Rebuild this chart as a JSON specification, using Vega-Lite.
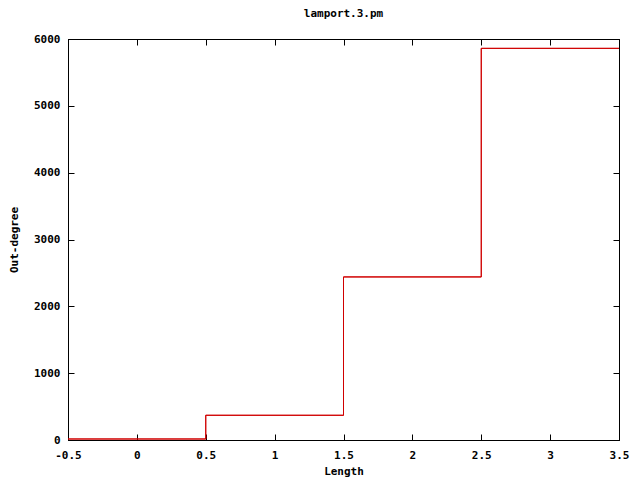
{
  "$schema": "https://vega.github.io/schema/vega-lite/v6.json",
  "width": 551,
  "height": 401,
  "autosize": "none",
  "padding": {"left": 68, "top": 39, "right": 21, "bottom": 40},
  "background": "white",
  "title": {
    "text": "lamport.3.pm",
    "font": "DejaVu Sans Mono",
    "fontSize": 11,
    "fontWeight": "bold",
    "color": "black",
    "offset": 14,
    "anchor": "middle"
  },
  "config": {
    "view": {"stroke": "black", "strokeWidth": 1},
    "axis": {
      "domainColor": "black",
      "tickColor": "black",
      "labelColor": "black",
      "titleColor": "black",
      "labelFont": "DejaVu Sans Mono",
      "titleFont": "DejaVu Sans Mono",
      "labelFontSize": 11,
      "titleFontSize": 11,
      "labelFontWeight": "bold",
      "titleFontWeight": "bold",
      "grid": false,
      "tickSize": -6,
      "labelFlush": false,
      "labelOverlap": false,
      "labelBound": false
    }
  },
  "data": {
    "values": [
      {"length": -0.5, "degree": 15},
      {"length": 0.5, "degree": 370},
      {"length": 1.5, "degree": 2440},
      {"length": 2.5, "degree": 5860},
      {"length": 3.5, "degree": 5860}
    ]
  },
  "layer": [
    {
      "mark": {"type": "line", "interpolate": "step-after", "color": "#d00000", "strokeWidth": 1},
      "encoding": {
        "x": {
          "field": "length", "type": "quantitative",
          "scale": {"domain": [-0.5, 3.5], "nice": false, "zero": false},
          "axis": {"orient": "bottom", "values": [-0.5, 0, 0.5, 1, 1.5, 2, 2.5, 3, 3.5], "labelExpr": "datum.value + ''", "labelPadding": 15, "title": "Length", "titlePadding": 5}
        },
        "y": {
          "field": "degree", "type": "quantitative",
          "scale": {"domain": [0, 6000], "nice": false},
          "axis": {"orient": "left", "values": [0, 1000, 2000, 3000, 4000, 5000, 6000], "format": "d", "labelPadding": 14, "title": "Out-degree", "titlePadding": 14}
        }
      }
    },
    {
      "mark": {"type": "line", "interpolate": "step-after", "color": "#d00000", "strokeWidth": 1},
      "encoding": {
        "x": {
          "field": "length", "type": "quantitative",
          "scale": {"domain": [-0.5, 3.5], "nice": false, "zero": false},
          "axis": {"orient": "top", "values": [-0.5, 0, 0.5, 1, 1.5, 2, 2.5, 3, 3.5], "labels": false, "title": null}
        },
        "y": {
          "field": "degree", "type": "quantitative",
          "scale": {"domain": [0, 6000], "nice": false},
          "axis": {"orient": "right", "values": [0, 1000, 2000, 3000, 4000, 5000, 6000], "labels": false, "title": null}
        }
      }
    }
  ],
  "resolve": {"axis": {"x": "independent", "y": "independent"}}
}
